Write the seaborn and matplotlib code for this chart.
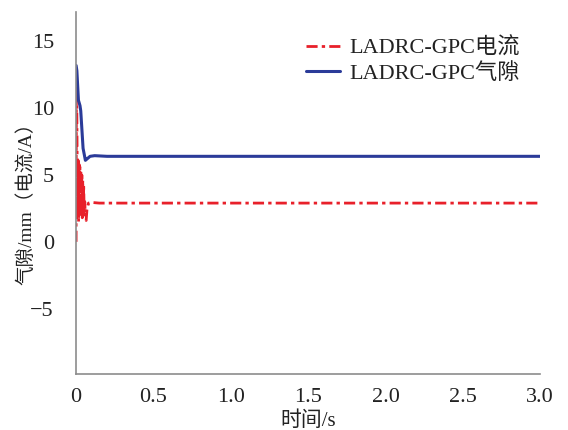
import numpy as np
import pandas as pd
import matplotlib
matplotlib.use("Agg")
import matplotlib.pyplot as plt
import seaborn as sns

sns.set_theme(style="white")
plt.rcParams["font.family"] = ["Liberation Serif", "Noto Sans CJK SC"]
plt.rcParams["axes.unicode_minus"] = True

# Current response (A)
t_current = [0.0, 0.002, 0.004, 0.007, 0.010, 0.013, 0.016, 0.019, 0.022, 0.025,
             0.028, 0.031, 0.034, 0.037, 0.040, 0.043, 0.046, 0.049, 0.052, 0.056,
             0.060, 0.065, 0.070, 0.080, 0.100, 0.150, 3.0]
i_current = [0.0, 12.5, 10.5, 6.0, 1.8, 6.1, 1.5, 5.8, 1.9, 5.6,
             2.0, 5.3, 2.2, 5.0, 1.8, 4.6, 2.0, 4.2, 2.3, 3.0,
             1.8, 1.6, 2.4, 2.9, 2.95, 2.9, 2.9]

# Air gap response (mm)
t_gap = [0.0, 0.005, 0.015, 0.025, 0.030, 0.045, 0.060, 0.070, 0.090, 0.120, 0.200, 3.0]
g_gap = [13.2, 12.8, 10.6, 10.2, 9.8, 7.0, 6.1, 6.2, 6.4, 6.45, 6.4, 6.4]

x_ticks = [0, 0.5, 1.0, 1.5, 2.0, 2.5, 3.0]
x_tick_labels = ["0", "0.5", "1.0", "1.5", "2.0", "2.5", "3.0"]
y_ticks = [-5, 0, 5, 10, 15]
y_tick_labels = ["\u22125", "0", "5", "10", "15"]

label_current = "LADRC-GPC电流"
label_gap = "LADRC-GPC气隙"

df_current = pd.DataFrame({"t": t_current, "v": i_current})
df_gap = pd.DataFrame({"t": t_gap, "v": g_gap})

fig, ax = plt.subplots(figsize=(5.68, 4.30), dpi=100)
fig.subplots_adjust(left=0.134, right=0.951, top=0.972, bottom=0.130)

sns.lineplot(data=df_current, x="t", y="v", ax=ax, color="#e8202a",
             linewidth=2.0, linestyle=(0, (4, 1.5, 1.2, 1.5)), label=label_current)
sns.lineplot(data=df_gap, x="t", y="v", ax=ax, color="#2b3b99",
             linewidth=2.2, label=label_gap)

ax.set_xlim(0, 3.0)
ax.set_ylim(-9.9, 17.2)
ax.set_xticks(x_ticks)
ax.set_xticklabels(x_tick_labels)
ax.set_yticks(y_ticks)
ax.set_yticklabels(y_tick_labels)

for side in ("top", "right"):
    ax.spines[side].set_visible(False)
for side in ("left", "bottom"):
    ax.spines[side].set_color("#8c8c8c")
    ax.spines[side].set_linewidth(1.2)

ax.tick_params(axis="both", direction="in", length=5, width=1.0, color="#8c8c8c",
               labelsize=16, labelcolor="#222222")
ax.tick_params(axis="x", pad=10)
ax.tick_params(axis="y", pad=16)

ax.set_xlabel("时间/s", fontsize=15, color="#222222", labelpad=3)
ax.set_ylabel("气隙/mm（电流/A）", fontsize=14, color="#222222")
ax.yaxis.set_label_coords(-0.087, 0.485)

leg = ax.legend(loc="upper right", frameon=False, fontsize=16, handlelength=1.5,
                handletextpad=0.45, bbox_to_anchor=(1.0, 0.985), labelspacing=0.2)
for txt in leg.get_texts():
    txt.set_color("#222222")

fig.savefig("out.png", dpi=100)
